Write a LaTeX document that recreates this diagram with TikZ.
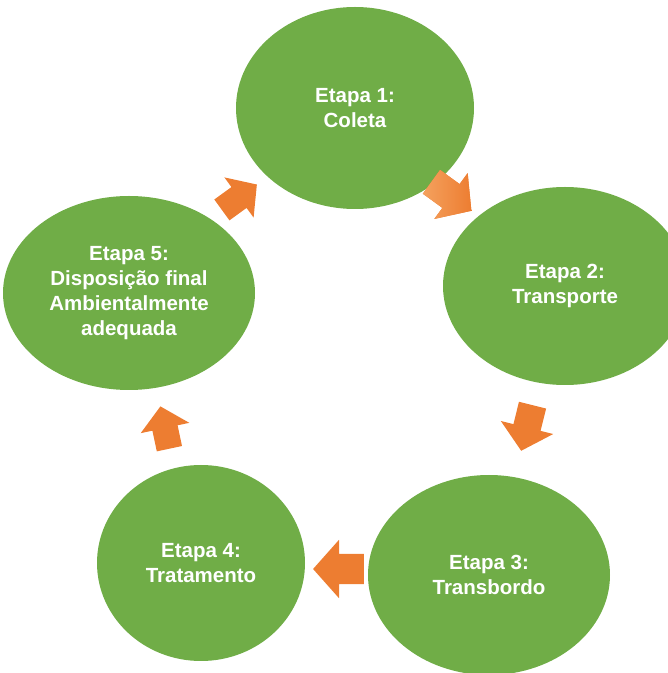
\documentclass[tikz,border=0pt]{standalone}
\usepackage{fontspec}
\setmainfont{Liberation Sans}
\usetikzlibrary{shapes.geometric,calc}
\definecolor{stagegreen}{HTML}{70AD47}
\definecolor{flow}{HTML}{ED7D31}
\definecolor{flowlight}{HTML}{F4A15E}
\tikzset{
  stage/.style={ellipse, fill=stagegreen, text=white,
    font=\bfseries\fontsize{20.5}{25}\selectfont, align=center, inner sep=0pt},
  flowarrow/.pic={
    \fill[flow, pic actions] (-23,-14) -- (0,-14) -- (0,-27) -- (24,0) -- (0,27)
      -- (0,14) -- (-23,14) -- cycle;
  }
}
\begin{document}
\begin{tikzpicture}[x=1pt,y=1pt]
\useasboundingbox (0,0) rectangle (668,673);
\clip (0,0) rectangle (668,673);

% the five stages
\node[stage, minimum width=238, minimum height=202] (c1) at (355,565) {Etapa 1:\\Coleta};
\node[stage, minimum width=244, minimum height=198] (c2) at (565,387) {Etapa 2:\\Transporte};
\node[stage, minimum width=242, minimum height=200] (c3) at (489,98)  {Etapa 3:\\Transbordo};
\node[stage, minimum width=208, minimum height=196] (c4) at (201,110) {Etapa 4:\\Tratamento};
\node[stage, minimum width=252, minimum height=194] (c5) at (129,380)
  {Etapa 5:\\Disposição final\\Ambientalmente\\adequada};

% block arrows between consecutive stages
\path ($(c1)!0.5!(c2)$) ++(-9,1) pic[rotate=-36, scale=1.05, left color=flowlight, right color=flow] {flowarrow};
\path ($(c2)!0.5!(c3)$) ++(0,3) pic[rotate=-104] {flowarrow};
\path ($(c3)!0.5!(c4)$) ++(-6,0) pic[rotate=180, scale=1.08] {flowarrow};
\path ($(c4)!0.5!(c5)$) pic[rotate=102, scale=0.92] {flowarrow};
\path ($(c5)!0.5!(c1)$) ++(-3,3) pic[rotate=36, scale=0.92] {flowarrow};
\end{tikzpicture}
\end{document}
